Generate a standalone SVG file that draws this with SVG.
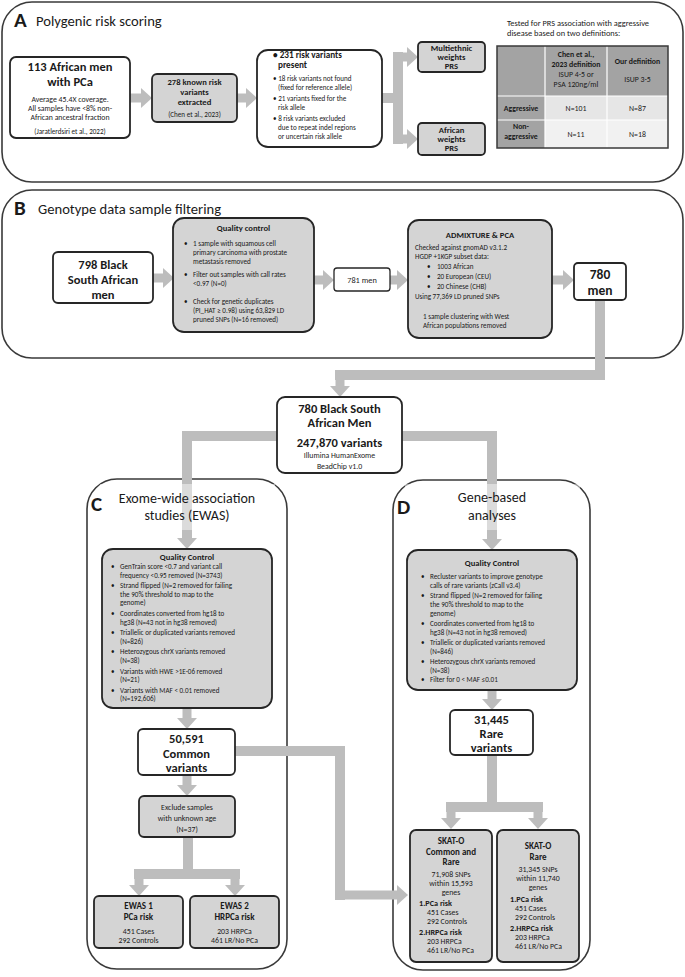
<svg xmlns="http://www.w3.org/2000/svg" width="685" height="977" viewBox="0 0 685 977">
<defs>
<style>
text{font-family:Carlito,Lato,"Liberation Sans",sans-serif;fill:#1a1a1a}
.panel{fill:none;stroke:#3a3a3a;stroke-width:1.6}
.wbox{fill:#ffffff;stroke:#262626;stroke-width:1.8}
.gbox{fill:#d4d4d4;stroke:#262626;stroke-width:1.8}
.con{fill:none;stroke:#bdbdbd;stroke-width:10}
.arr{fill:none;stroke:#bdbdbd;stroke-width:9;marker-end:url(#ah)}
.ttl{font-size:14.6px}
.ttl2{font-size:14px;text-anchor:middle}
.lt{font-size:21px;font-weight:bold}
.big{font-size:12.5px;font-weight:bold;text-anchor:middle}
.b10{font-size:9px;font-weight:bold;text-anchor:middle}
.b9{font-size:8.6px;font-weight:bold}
.s8{font-size:7.8px}
.s7{font-size:7.1px}
.c{text-anchor:middle}
.tc{font-size:7.8px;text-anchor:middle}
.tb{font-size:7.8px;font-weight:bold;text-anchor:middle}
</style>
<marker id="ah" markerUnits="userSpaceOnUse" markerWidth="12" markerHeight="20" refX="0" refY="10" orient="auto">
<path d="M0,0 L11,10 L0,20 Z" fill="#bdbdbd"/>
</marker>
</defs>
<rect width="685" height="977" fill="#ffffff"/>

<g id="panels">
<rect class="panel" x="2" y="2" width="681" height="180" rx="30"/>
<rect class="panel" x="2" y="190" width="681" height="168" rx="30"/>
<rect class="panel" x="87" y="479" width="200" height="490" rx="30"/>
<rect class="panel" x="393" y="480" width="197" height="490" rx="30"/>
</g>

<g id="connectors">
<line class="arr" x1="130" y1="98" x2="141" y2="98"/>
<line class="arr" x1="237" y1="98" x2="246" y2="98"/>
<line class="con" x1="382" y1="98" x2="398" y2="98"/>
<line class="con" x1="398" y1="52" x2="398" y2="144"/>
<line class="arr" x1="393" y1="57" x2="407" y2="57"/>
<line class="arr" x1="393" y1="139" x2="407" y2="139"/>
<line class="arr" x1="153" y1="278" x2="163" y2="278"/>
<line class="arr" x1="314" y1="280" x2="323" y2="280"/>
<line class="arr" x1="390" y1="280" x2="397" y2="280"/>
<line class="arr" x1="552" y1="280" x2="563" y2="280"/>
<line class="con" x1="600" y1="300" x2="600" y2="380"/>
<line class="con" x1="605" y1="375" x2="335" y2="375"/>
<line class="arr" x1="340" y1="370" x2="340" y2="386"/>
<line class="con" x1="277" y1="436" x2="182" y2="436"/>
<line class="con" x1="187" y1="431" x2="187" y2="538"/>
<line class="arr" x1="187" y1="530" x2="187" y2="538"/>
<line class="con" x1="402" y1="436" x2="497" y2="436"/>
<line class="con" x1="492" y1="431" x2="492" y2="540"/>
<line class="arr" x1="492" y1="530" x2="492" y2="539"/>
<line class="arr" x1="187" y1="708" x2="187" y2="718"/>
<line class="arr" x1="187" y1="775" x2="187" y2="785"/>
<line class="con" x1="188" y1="837" x2="188" y2="879"/>
<line class="con" x1="134" y1="874" x2="240" y2="874"/>
<line class="arr" x1="139" y1="870" x2="139" y2="885"/>
<line class="arr" x1="235" y1="870" x2="235" y2="885"/>
<line class="arr" x1="492" y1="690" x2="492" y2="699"/>
<line class="con" x1="492" y1="755" x2="492" y2="812"/>
<line class="con" x1="446" y1="807" x2="543" y2="807"/>
<line class="arr" x1="451" y1="803" x2="451" y2="818"/>
<line class="arr" x1="538" y1="803" x2="538" y2="818"/>
<line class="con" x1="235" y1="751" x2="345" y2="751"/>
<line class="con" x1="340" y1="746" x2="340" y2="900"/>
<line class="arr" x1="335" y1="895" x2="397" y2="895"/>
</g>

<g id="titles">
<text class="lt" x="14" y="27">A</text>
<text class="ttl" x="36" y="26">Polygenic risk scoring</text>
<text class="lt" x="14" y="215">B</text>
<text class="ttl" x="38" y="214">Genotype data sample filtering</text>
<rect x="100" y="484" width="175" height="46" fill="#ffffff" fill-opacity="0.45"/>
<text class="lt" x="91" y="511">C</text>
<text class="ttl2" x="187" y="503">Exome-wide association</text>
<text class="ttl2" x="187" y="520">studies (EWAS)</text>
<rect x="405" y="484" width="175" height="46" fill="#ffffff" fill-opacity="0.45"/>
<text class="lt" x="397" y="514">D</text>
<text class="ttl2" x="492" y="502">Gene-based</text>
<text class="ttl2" x="492" y="520">analyses</text>
</g>

<g id="a_men">
<rect class="wbox" x="10" y="57" width="120" height="81" rx="6"/>
<text class="big" x="70" y="71">113 African men</text>
<text class="big" x="70" y="86">with PCa</text>
<text class="s8 c" x="70" y="102">Average 45.4X coverage.</text>
<text class="s8 c" x="70" y="111">All samples have &lt;8% non-</text>
<text class="s8 c" x="70" y="120">African ancestral fraction</text>
<text class="s7 c" x="70" y="134">(Jaratlerdsiri et al., 2022)</text>
</g>

<g id="a_278">
<rect class="gbox" x="152" y="74" width="85" height="48" rx="5"/>
<text class="b9 c" x="194.5" y="85">278 known risk</text>
<text class="b9 c" x="194.5" y="95">variants</text>
<text class="b9 c" x="194.5" y="105">extracted</text>
<text class="s7 c" x="194.5" y="117">(Chen et al., 2023)</text>
</g>

<g id="a_231">
<rect class="wbox" x="257" y="50" width="125" height="97" rx="11"/>
<text class="b9" x="273" y="58" style="font-size:9.2px">• 231 risk variants</text>
<text class="b9" x="278" y="68" style="font-size:9.2px">present</text>
<text class="s7" x="273" y="81">• 18 risk variants not found</text>
<text class="s7" x="278" y="90">(fixed for reference allele)</text>
<text class="s7" x="273" y="101">• 21 variants fixed for the</text>
<text class="s7" x="278" y="110">risk allele</text>
<text class="s7" x="273" y="121">• 8 risk variants excluded</text>
<text class="s7" x="278" y="130">due to repeat indel regions</text>
<text class="s7" x="278" y="139">or uncertain risk allele</text>
</g>

<g id="a_multi">
<rect class="gbox" x="418" y="42" width="67" height="30" rx="4"/>
<text class="b9 c" x="451.5" y="51">Multiethnic</text>
<text class="b9 c" x="451.5" y="60">weights</text>
<text class="b9 c" x="451.5" y="69">PRS</text>
</g>

<g id="a_afr">
<rect class="gbox" x="418" y="123" width="67" height="32" rx="4"/>
<text class="b9 c" x="451.5" y="133">African</text>
<text class="b9 c" x="451.5" y="142">weights</text>
<text class="b9 c" x="451.5" y="151">PRS</text>
</g>

<g id="a_table">
<text x="507" y="26" style="font-size:8.4px">Tested for PRS association with aggressive</text>
<text x="507" y="36" style="font-size:8.4px">disease based on two definitions:</text>
<rect x="497" y="46" width="171" height="102" fill="#a3a3a3"/>
<rect x="545" y="96" width="123" height="24" fill="#e6e6e6"/>
<rect x="545" y="120" width="123" height="28" fill="#f1f1f1"/>
<g stroke="#ffffff" stroke-width="1.2">
<line x1="545" y1="46" x2="545" y2="148"/>
<line x1="607" y1="46" x2="607" y2="148"/>
<line x1="497" y1="96" x2="668" y2="96"/>
<line x1="497" y1="120" x2="668" y2="120"/>
</g>
<rect x="497" y="46" width="171" height="102" fill="none" stroke="#3a3a3a" stroke-width="1.5"/>
<text class="tb" x="576" y="57">Chen et al.,</text>
<text class="tb" x="576" y="67">2023 definition</text>
<text class="tc" x="576" y="77">ISUP 4-5 or</text>
<text class="tc" x="576" y="87">PSA 120ng/ml</text>
<text class="tb" x="637.5" y="64">Our definition</text>
<text class="tc" x="637.5" y="82">ISUP 3-5</text>
<text class="tb" x="521" y="111">Aggressive</text>
<text class="tc" x="576" y="111">N=101</text>
<text class="tc" x="637.5" y="111">N=87</text>
<text class="tb" x="521" y="129">Non-</text>
<text class="tb" x="521" y="139">aggressive</text>
<text class="tc" x="576" y="137">N=11</text>
<text class="tc" x="637.5" y="137">N=18</text>
</g>

<g id="b_798">
<rect class="wbox" x="53" y="252" width="100" height="51" rx="5"/>
<text class="big" x="103" y="269">798 Black</text>
<text class="big" x="103" y="284">South African</text>
<text class="big" x="103" y="299">men</text>
</g>

<g id="b_qc">
<rect class="gbox" x="173" y="218" width="141" height="114" rx="11"/>
<text class="b9 c" x="243.5" y="231">Quality control</text>
<text class="s7" x="184" y="246">•</text>
<text class="s7" x="193" y="246">1 sample with squamous cell</text>
<text class="s7" x="193" y="255">primary carcinoma with prostate</text>
<text class="s7" x="193" y="264">metastasis removed</text>
<text class="s7" x="184" y="277">•</text>
<text class="s7" x="193" y="277">Filter out samples with call rates</text>
<text class="s7" x="193" y="286">&lt;0.97 (N=0)</text>
<text class="s7" x="184" y="304">•</text>
<text class="s7" x="193" y="304">Check for genetic duplicates</text>
<text class="s7" x="193" y="313">(PI_HAT ≥ 0.98) using 63,829 LD</text>
<text class="s7" x="193" y="322">pruned SNPs (N=16 removed)</text>
</g>

<g id="b_781">
<rect class="wbox" x="334" y="268" width="56" height="23" rx="3" style="stroke-width:1.3"/>
<text class="c" x="362" y="283" style="font-size:8.3px">781 men</text>
</g>

<g id="b_admix">
<rect class="gbox" x="408" y="220" width="144" height="118" rx="11"/>
<text class="b9 c" x="480" y="238">ADMIXTURE &amp; PCA</text>
<text class="s7" x="415" y="250">Checked against gnomAD v3.1.2</text>
<text class="s7" x="415" y="259">HGDP +1KGP subset data:</text>
<text class="s7" x="427" y="269">•</text>
<text class="s7" x="437" y="269">1003 African</text>
<text class="s7" x="427" y="279">•</text>
<text class="s7" x="437" y="279">20 European (CEU)</text>
<text class="s7" x="427" y="289">•</text>
<text class="s7" x="437" y="289">20 Chinese (CHB)</text>
<text class="s7" x="415" y="299">Using 77,369 LD pruned SNPs</text>
<text class="s7" x="423" y="319">1 sample clustering with West</text>
<text class="s7" x="423" y="328">African populations removed</text>
</g>

<g id="b_780">
<rect class="wbox" x="574" y="263" width="52" height="37" rx="4"/>
<text class="big" x="600" y="279" style="font-size:13.5px">780</text>
<text class="big" x="600" y="295" style="font-size:13.5px">men</text>
</g>

<g id="center">
<rect class="wbox" x="277" y="397" width="125" height="76" rx="8"/>
<text class="big" x="339.5" y="413">780 Black South</text>
<text class="big" x="339.5" y="427">African Men</text>
<text class="big" x="339.5" y="447">247,870 variants</text>
<text class="s8 c" x="339.5" y="458">Illumina HumanExome</text>
<text class="s8 c" x="339.5" y="469">BeadChip v1.0</text>
</g>

<g id="c_qc">
<rect class="gbox" x="102" y="549" width="170" height="159" rx="11"/>
<text class="b9 c" x="187" y="560">Quality Control</text>
<g class="s7">
<text x="111" y="569">•</text><text x="120" y="569">GenTrain score &lt;0.7 and variant call</text>
<text x="120" y="577.6">frequency &lt;0.95 removed (N=3743)</text>
<text x="111" y="588.2">•</text><text x="120" y="588.2">Strand flipped (N=2 removed for failing</text>
<text x="120" y="596.8">the 90% threshold to map to the</text>
<text x="120" y="605.4">genome)</text>
<text x="111" y="616">•</text><text x="120" y="616">Coordinates converted from hg18 to</text>
<text x="120" y="624.6">hg38 (N=43 not in hg38 removed)</text>
<text x="111" y="635.2">•</text><text x="120" y="635.2">Triallelic or duplicated variants removed</text>
<text x="120" y="643.8">(N=826)</text>
<text x="111" y="654.4">•</text><text x="120" y="654.4">Heterozygous chrX variants removed</text>
<text x="120" y="663">(N=38)</text>
<text x="111" y="673.6">•</text><text x="120" y="673.6">Variants with HWE &gt;1E-06 removed</text>
<text x="120" y="682.2">(N=21)</text>
<text x="111" y="692.8">•</text><text x="120" y="692.8">Variants with MAF &lt; 0.01 removed</text>
<text x="120" y="701.4">(N=192,606)</text>
</g>
</g>

<g id="c_common">
<rect class="wbox" x="138" y="729" width="97" height="46" rx="5"/>
<text class="big" x="186.5" y="743">50,591</text>
<text class="big" x="186.5" y="757.5">Common</text>
<text class="big" x="186.5" y="772">variants</text>
</g>

<g id="c_exclude">
<rect class="gbox" x="139" y="796" width="96" height="41" rx="5"/>
<text class="s8 c" x="187" y="810">Exclude samples</text>
<text class="s8 c" x="187" y="821">with unknown age</text>
<text class="s8 c" x="187" y="832">(N=37)</text>
</g>

<g id="c_ewas1">
<rect class="gbox" x="94" y="896" width="89" height="52" rx="5"/>
<text class="b10" x="138.5" y="909">EWAS 1</text>
<text class="b10" x="138.5" y="919.5">PCa risk</text>
<text class="s8 c" x="138.5" y="934">451 Cases</text>
<text class="s8 c" x="138.5" y="943">292 Controls</text>
</g>

<g id="c_ewas2">
<rect class="gbox" x="190" y="896" width="89" height="52" rx="5"/>
<text class="b10" x="234.5" y="909">EWAS 2</text>
<text class="b10" x="234.5" y="919.5">HRPCa risk</text>
<text class="s8 c" x="234.5" y="934">203 HRPCa</text>
<text class="s8 c" x="234.5" y="943">461 LR/No PCa</text>
</g>

<g id="d_qc">
<rect class="gbox" x="407" y="550" width="170" height="140" rx="11"/>
<text class="b9 c" x="492" y="566">Quality Control</text>
<g class="s7">
<text x="421" y="579">•</text><text x="430" y="579">Recluster variants to improve genotype</text>
<text x="430" y="588">calls of rare variants (zCall v3.4)</text>
<text x="421" y="598">•</text><text x="430" y="598">Strand flipped (N=2 removed for failing</text>
<text x="430" y="607">the 90% threshold to map to the</text>
<text x="430" y="616">genome)</text>
<text x="421" y="626">•</text><text x="430" y="626">Coordinates converted from hg18 to</text>
<text x="430" y="635">hg38 (N=43 not in hg38 removed)</text>
<text x="421" y="645">•</text><text x="430" y="645">Triallelic or duplicated variants removed</text>
<text x="430" y="654">(N=846)</text>
<text x="421" y="664">•</text><text x="430" y="664">Heterozygous chrX variants removed</text>
<text x="430" y="673">(N=38)</text>
<text x="421" y="682">•</text><text x="430" y="682">Filter for 0 &lt; MAF ≤0.01</text>
</g>
</g>

<g id="d_rare">
<rect class="wbox" x="450" y="710" width="83" height="45" rx="5"/>
<text class="big" x="491.5" y="724">31,445</text>
<text class="big" x="491.5" y="738">Rare</text>
<text class="big" x="491.5" y="752">variants</text>
</g>

<g id="d_skat1">
<rect class="gbox" x="410" y="830" width="82" height="132" rx="6"/>
<text class="b10" x="451" y="844">SKAT-O</text>
<text class="b10" x="451" y="854.5">Common and</text>
<text class="b10" x="451" y="865">Rare</text>
<text class="s8 c" x="451" y="877">71,908 SNPs</text>
<text class="s8 c" x="451" y="886">within 15,593</text>
<text class="s8 c" x="451" y="895">genes</text>
<text class="b9" x="419" y="906" style="font-size:8.2px">1.PCa risk</text>
<text class="s8" x="427" y="915">451 Cases</text>
<text class="s8" x="427" y="924">292 Controls</text>
<text class="b9" x="419" y="935" style="font-size:8.2px">2.HRPCa risk</text>
<text class="s8" x="427" y="944">203 HRPCa</text>
<text class="s8" x="427" y="953">461 LR/No PCa</text>
</g>

<g id="d_skat2">
<rect class="gbox" x="497" y="830" width="82" height="132" rx="6"/>
<text class="b10" x="538" y="849">SKAT-O</text>
<text class="b10" x="538" y="859.5">Rare</text>
<text class="s8 c" x="538" y="872">31,345 SNPs</text>
<text class="s8 c" x="538" y="881">within 11,740</text>
<text class="s8 c" x="538" y="890">genes</text>
<text class="b9" x="510" y="902" style="font-size:8.2px">1.PCa risk</text>
<text class="s8" x="515" y="911">451 Cases</text>
<text class="s8" x="515" y="920">292 Controls</text>
<text class="b9" x="510" y="931" style="font-size:8.2px">2.HRPCa risk</text>
<text class="s8" x="515" y="940">203 HRPCa</text>
<text class="s8" x="515" y="949">461 LR/No PCa</text>
</g>
</svg>
